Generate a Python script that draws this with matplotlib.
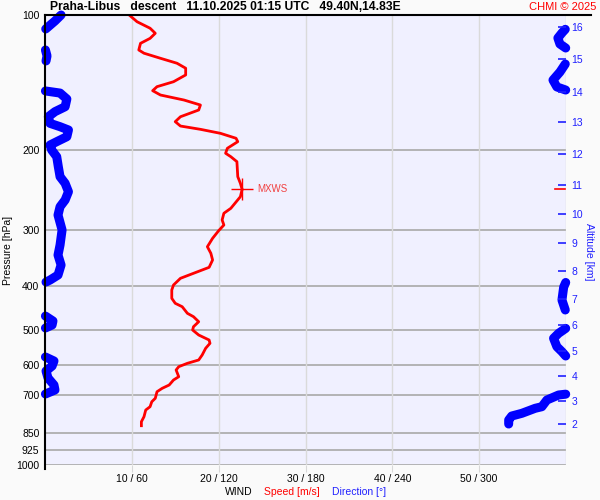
import matplotlib
matplotlib.use('Agg')
import matplotlib.pyplot as plt
import numpy as np
from matplotlib.lines import Line2D
from matplotlib.ticker import NullLocator

plt.rcParams['font.family'] = ['Liberation Sans', 'DejaVu Sans']

# Wind speed profile [hPa], [m/s]
speed_p = [100, 103.5, 107.0, 109.8, 112.7, 115.6, 119.6, 121.6, 124.8, 128.0,
           131.3, 135.9, 140.7, 144.3, 147.3, 150.6, 154.5, 158.5, 162.6, 168.3,
           172.6, 176.5, 179.5, 183.2, 187.9, 191.2, 197.8, 202.9, 206.5, 211.8,
           228.7, 236.6, 244.0, 253.4, 268.9, 275.8, 285.4, 292.9, 301.5, 313.5,
           327.3, 338.5, 350.3, 363.7, 375.0, 384.7, 398.1, 408.4, 426.2, 437.2,
           444.9, 460.2, 468.2, 480.4, 492.8, 501.2, 514.2, 527.5, 536.5, 550.4,
           569.6, 584.3, 594.3, 604.7, 615.0, 636.5, 647.3, 664.1, 675.4, 687.3,
           710.9, 723.4, 742.1, 754.8, 781.1, 801.3, 817.9]
speed_ms = [9.7, 10.6, 12.1, 12.7, 12.1, 11.0, 10.8, 11.4, 13.3, 15.2,
            16.2, 16.2, 14.8, 12.9, 12.4, 13.3, 16.0, 17.9, 17.7, 15.6,
            15.0, 15.6, 17.9, 20.2, 22.0, 22.2, 21.0, 20.8, 21.4, 22.1,
            22.2, 22.5, 22.7, 22.5, 21.4, 20.6, 20.4, 20.6, 20.0, 19.3,
            18.7, 19.1, 19.3, 18.9, 17.1, 15.6, 14.8, 14.6, 14.6, 15.0,
            15.8, 16.4, 17.1, 17.7, 17.1, 17.0, 17.7, 18.9, 19.0, 18.5,
            18.1, 17.7, 16.4, 15.4, 15.1, 15.4, 14.8, 14.3, 13.5, 12.9,
            12.7, 12.3, 12.1, 11.6, 11.4, 11.1, 11.1]

# Wind direction profile [hPa], [deg]
dir_p = [100, 103.1, 106.3, 107.4, 107.6, 109.6, 112.5, 116.0, 118.4, 119.6,
         123.3, 126.5, 128.5, 133.9, 139.5, 144.5, 146.8, 147.5, 149.1, 153.7,
         159.9, 164.0, 168.3, 174.1, 177.1, 180.1, 186.4, 191.2, 194.5, 199.5,
         206.5, 217.3, 228.7, 236.6, 247.0, 257.7, 266.7, 278.3, 300.4, 324.4,
         341.5, 359.4, 378.3, 388.1, 392.1, 393.0, 402.3, 429.9, 452.4, 466.7,
         478.6, 488.5, 496.1, 497.0, 509.7, 522.9, 545.9, 560.0, 572.5, 575.4,
         587.3, 602.6, 618.2, 640.8, 664.1, 681.3, 695.4, 696.0, 698.9, 717.1,
         742.1, 748.2, 767.6, 778.3, 794.3, 810.8]
dir_deg = [11.1, 6.9, 2.1, 0.5, 359.5, 357.2, 354.4, 355.8, 359.8, 0.3,
           1.4, 0.7, 359.5, 355.8, 351.0, 353.7, 359.8, 0.3, 10.4, 15.1,
           13.9, 6.9, 2.3, 3.5, 10.4, 16.2, 15.1, 8.1, 3.5, 4.6,
           8.1, 9.2, 10.4, 13.9, 16.2, 13.9, 10.4, 9.0, 11.8, 10.4,
           9.0, 11.1, 9.0, 3.5, 0.7, 359.8, 358.4, 357.2, 359.5, 0.3,
           5.5, 4.9, 0.3, 359.8, 354.9, 351.4, 353.7, 357.2, 359.8, 0.3,
           6.2, 4.9, 0.7, 2.1, 6.2, 6.9, 0.3, 359.8, 354.9, 346.8,
           343.3, 338.7, 329.5, 322.5, 320.4, 320.4]

# Max wind speed
mxws_p = 244.0
mxws_ms = 22.7

# Axes ticks
p_ticks = [100, 200, 300, 400, 500, 600, 700, 850, 925, 1000]
speed_ticks = [10, 20, 30, 40, 50]
speed_labels = ['10 / 60', '20 / 120', '30 / 180', '40 / 240', '50 / 300']
alt_km = [2, 3, 4, 5, 6, 7, 8, 9, 10, 11, 12, 13, 14, 15, 16]
alt_p = [810, 720, 634, 557, 489, 428, 371, 321, 277, 239, 204, 173, 148, 125, 106.3]

fig = plt.figure(figsize=(6, 5), dpi=100, facecolor='#fafafa')
ax = fig.add_axes([45/600, 35/500, 521/600, 450/500])
ax.set_facecolor('#f0f0ff')
ax.set_yscale('log')
ax.set_ylim(1000, 100)
ax.set_xlim(0, 60)
for s in ax.spines.values():
    s.set_visible(False)

ax.set_yticks(p_ticks)
ax.set_yticklabels([str(p) for p in p_ticks])
ax.yaxis.set_minor_locator(NullLocator())
ax.tick_params(axis='y', length=0, pad=4, labelsize=7.5)
ax.set_xticks(speed_ticks)
ax.set_xticklabels(speed_labels)
ax.tick_params(axis='x', length=5, color='#d8d8d8', pad=1.5, labelsize=7.5)

for p in p_ticks[1:]:
    ax.axhline(p, color='#a8a8a8', lw=1.2, zorder=1)
for s in speed_ticks:
    ax.axvline(s, color='#dadada', lw=1, zorder=1)
ax.axvline(60, color='#d8d8d8', lw=1, zorder=1)

# direction (0-360 deg on 0-60 scale), broken where it wraps
dx = np.array(dir_deg) / 6.0
dy = np.array(dir_p, dtype=float)
jumps = np.where(np.abs(np.diff(dx)) > 30)[0] + 1
dx = np.insert(dx, jumps, np.nan)
dy = np.insert(dy, jumps, np.nan)
ax.plot(dx, dy, color='#0000ff', lw=6.5, solid_capstyle='round',
        solid_joinstyle='round', zorder=3, clip_on=False)

ax.plot(speed_ms, speed_p, color='#ff0000', lw=2, zorder=4)
ax.plot(mxws_ms, mxws_p, marker='+', ms=16, mew=1, color='#ff0000', zorder=5)
ax.annotate('MXWS', (mxws_ms, mxws_p), xytext=(11, 0), textcoords='offset points',
            color='#f04040', fontsize=7, va='center')

# altitude axis
ax2 = ax.twinx()
ax2.set_yscale('log')
ax2.set_ylim(1000, 100)
for s in ax2.spines.values():
    s.set_visible(False)
ax2.set_yticks(alt_p)
ax2.set_yticklabels([str(a) for a in alt_km])
ax2.yaxis.set_minor_locator(NullLocator())
ax2.tick_params(axis='y', direction='in', length=6, width=1.2, color='#2020ff',
                labelcolor='#2020ff', labelsize=7.5, pad=4)
ax2.axhline(mxws_p, xmin=0.978, xmax=0.998, color='#ff0000', lw=1.2)

# frame lines
fig.add_artist(Line2D([45/600, 591/600], [1 - 15/500] * 2, color='black', lw=1.5))
fig.add_artist(Line2D([45/600] * 2, [1 - 469/500, 1 - 15/500], color='black', lw=1.5))

fig.text(50/600, 1 - 7/500, 'Praha-Libus   descent   11.10.2025 01:15 UTC   49.40N,14.83E',
         fontweight='bold', fontsize=8.7, va='center', ha='left')
fig.text(596/600, 1 - 7/500, 'CHMI \u00a9 2025', color='#ff0000', fontsize=8,
         va='center', ha='right')
fig.text(8/600, 1 - 250/500, 'Pressure [hPa]', rotation=90, fontsize=7.5,
         va='center', ha='center')
fig.text(589/600, 1 - 252/500, 'Altitude [km]', rotation=270, fontsize=7.5,
         color='#2020ff', va='center', ha='center')
fig.text(225/600, 1 - 492/500, 'WIND', fontsize=7.5, va='center', ha='left')
fig.text(264/600, 1 - 492/500, 'Speed [m/s]', fontsize=7.5, color='#ff0000',
         va='center', ha='left')
fig.text(332/600, 1 - 492/500, 'Direction [\u00b0]', fontsize=7.5, color='#2020ff',
         va='center', ha='left')

fig.savefig('out.png', dpi=100, facecolor='#fafafa')
